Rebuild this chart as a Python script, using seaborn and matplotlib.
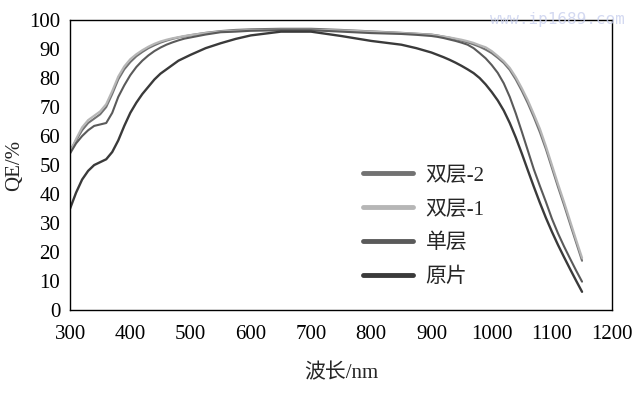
import numpy as np
import pandas as pd
import matplotlib
matplotlib.use("Agg")
import matplotlib.pyplot as plt
import seaborn as sns

wavelength = [300, 310, 320, 330, 340, 350, 360, 370, 380, 390, 400, 410, 420, 430, 440, 450,
              460, 470, 480, 490, 500, 525, 550, 575, 600, 650, 700, 750, 800, 850, 875,
              900, 910, 920, 930, 940, 950, 960, 970, 980, 990, 1000, 1010, 1020, 1030,
              1040, 1050, 1060, 1070, 1080, 1090, 1100, 1110, 1120, 1130, 1140, 1150]

qe_double2 = [55, 58.5, 62, 64.5, 66, 67.5, 70, 74.5, 79.5, 83, 85.5, 87.5, 89, 90.3, 91.3, 92.2,
              92.9, 93.5, 94, 94.4, 94.8, 95.6, 96.2, 96.6, 96.8, 97, 97, 96.6, 96.1, 95.6, 95.3,
              95, 94.7, 94.3, 93.9, 93.4, 92.9, 92.3, 91.6, 90.8, 89.8, 88.6, 87, 85.2, 82.8,
              79.5, 75.6, 71.3, 66.5, 61.3, 55.5, 49, 42.5, 36.3, 29.8, 23.4, 17]
qe_double1 = [54.5, 59, 63, 65.5, 67, 68.5, 71, 75.5, 80.5, 84, 86.5, 88.2, 89.6, 90.8, 91.8, 92.6,
              93.2, 93.7, 94.1, 94.5, 94.8, 95.5, 96, 96.3, 96.5, 96.6, 96.6, 96.4, 96, 95.5, 95.2,
              94.9, 94.6, 94.3, 94, 93.6, 93.2, 92.7, 92.1, 91.3, 90.6, 89.3, 87.6, 85.8, 83.5,
              80.3, 76.5, 72.3, 67.5, 62.5, 56.5, 50, 43.5, 37.3, 30.8, 24.3, 18]
qe_single = [54, 57.5, 60, 62, 63.5, 64, 64.5, 68, 73.5, 77.5, 81, 83.8, 86, 87.8, 89.3, 90.5,
             91.5, 92.3, 93, 93.6, 94, 95, 95.8, 96, 96.3, 96.5, 96.5, 96, 95.5, 95.2, 94.9,
             94.5, 94.2, 93.8, 93.3, 92.8, 92.2, 91.5, 90.3, 88.6, 86.8, 84.5, 81.8, 78.2, 73.5,
             67.8, 61.5, 55, 48.5, 42.8, 37.3, 31.5, 26.5, 22, 17.8, 13.7, 9.8]
qe_bare = [35, 40.5, 45, 48, 50, 51, 52, 54.5, 58.5, 63.5, 68, 71.5, 74.5, 77, 79.5, 81.5,
           83, 84.5, 86, 87, 88, 90.3, 92, 93.5, 94.7, 96, 96, 94.5, 92.8, 91.5, 90.3,
           88.8, 88, 87.2, 86.3, 85.3, 84.2, 83, 81.7, 80, 77.8, 75.2, 72.3, 68.8, 64.5,
           59.5, 54, 48.2, 42.5, 37, 31.8, 27, 22.5, 18.3, 14.2, 10.2, 6.3]

series_names = ["双层-2", "双层-1", "单层", "原片"]
series_values = [qe_double2, qe_double1, qe_single, qe_bare]
colors = ["#727272", "#b6b6b6", "#5a5a5a", "#3a3a3a"]
widths = [1.5, 1.6, 1.5, 1.7]

x_ticks = [300, 400, 500, 600, 700, 800, 900, 1000, 1100, 1200]
y_ticks = [0, 10, 20, 30, 40, 50, 60, 70, 80, 90, 100]

rows = []
for name, vals in zip(series_names, series_values):
    for w, v in zip(wavelength, vals):
        rows.append({"wavelength": w, "QE": v, "series": name})
df = pd.DataFrame(rows)

sns.set_style("white")
plt.rcParams['font.family'] = ['Liberation Serif', 'Noto Sans CJK SC']

fig = plt.figure(figsize=(6.37, 3.93), dpi=100)
ax = fig.add_axes([0.110, 0.211, 0.851, 0.738])

for name, c, lw in zip(series_names, colors, widths):
    sns.lineplot(data=df[df["series"] == name], x="wavelength", y="QE", color=c,
                 linewidth=lw, ax=ax, label=name)

ax.set_xlim(300, 1200)
ax.set_ylim(0, 100)
ax.set_xticks(x_ticks)
ax.set_yticks(y_ticks)
ax.tick_params(axis="both", direction="out", length=5, width=1, labelsize=15,
               colors="black", pad=2)
ax.tick_params(axis="x", pad=6)
for s in ax.spines.values():
    s.set_visible(True)
    s.set_color("black")
    s.set_linewidth(1.0)

ax.set_xlabel("波长/nm", fontsize=15, labelpad=14)
ax.set_ylabel("QE/%", fontsize=15, labelpad=4)

leg = ax.legend(loc="upper left", bbox_to_anchor=(0.525, 0.525), frameon=False,
                fontsize=15, handlelength=2.4, handletextpad=0.6, labelspacing=0.68,
                borderaxespad=0)
for h in leg.get_lines():
    h.set_linewidth(3.5)

fig.text(0.77, 0.94, "www.ip1689.com", color="#c9d0ee", fontsize=11.5,
         family="DejaVu Sans Mono", alpha=0.8)

fig.savefig("out.png", dpi=100)
